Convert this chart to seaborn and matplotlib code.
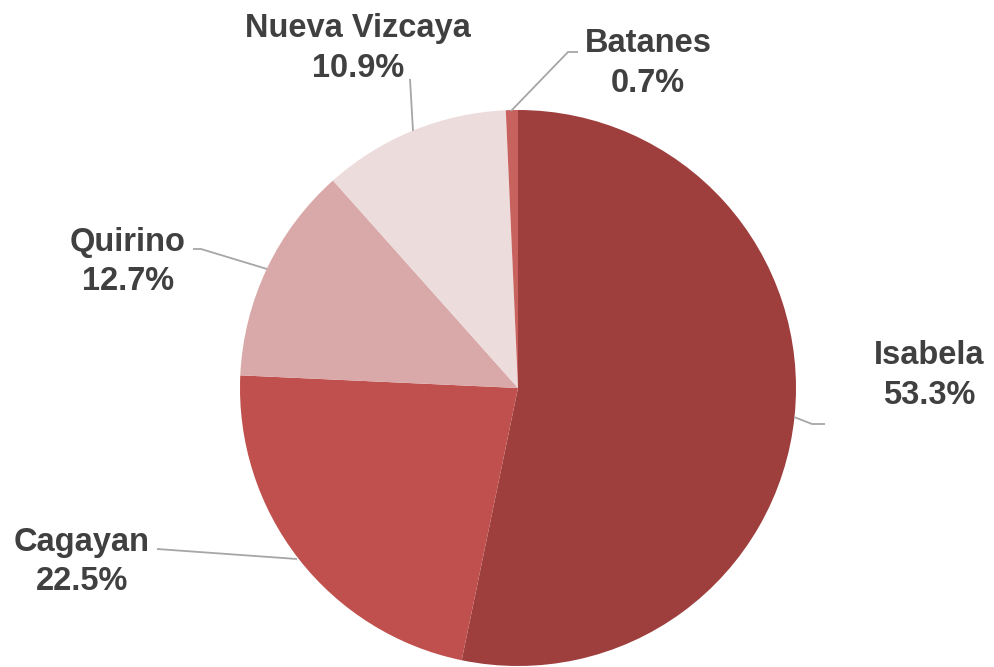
import matplotlib
matplotlib.use("Agg")
import matplotlib.pyplot as plt
import seaborn as sns

# ---- data ----
provinces = ["Isabela", "Cagayan", "Quirino", "Nueva Vizcaya", "Batanes"]
shares = [53.3, 22.5, 12.7, 10.9, 0.7]
colors = ["#9E3F3E", "#C0504D", "#D9A9A9", "#EDDCDC", "#C8625F"]

sns.set_theme(style="white")
plt.rcParams['font.family'] = ['Liberation Sans', 'DejaVu Sans']

W, H = 994, 667
fig = plt.figure(figsize=(W / 100, H / 100), dpi=100)
ax = fig.add_axes([0, 0, 1, 1])

cx, cy, r = 518, 388, 278
ax.pie(shares, colors=colors, startangle=-90, counterclock=True,
       center=(cx, cy), radius=r, frame=True,
       wedgeprops=dict(linewidth=0))
ax.set_xlim(0, W)
ax.set_ylim(H, 0)  # pixel-like coordinates, y down
ax.set_aspect("equal")
ax.axis("off")

# label layout: (name center, leader line points)
layout = {
    "Isabela": ((929, 356), [(794, 417), (812, 424), (825, 424)]),
    "Cagayan": ((82, 542), [(157, 549), (297, 559)]),
    "Quirino": ((128, 242), [(193, 249), (201, 249), (267, 269)]),
    "Nueva Vizcaya": ((358, 29), [(410, 79), (413, 131)]),
    "Batanes": ((648, 44), [(578, 52), (568, 52), (511, 111)]),
}

txt_color = "#404040"
line_color = "#A6A6A6"
for name, val in zip(provinces, shares):
    (tx, ty), pts = layout[name]
    ax.text(tx, ty, name, ha="center", va="center", fontsize=23.5,
            fontweight="bold", color=txt_color)
    ax.text(tx, ty + 39.5, f"{val:.1f}%", ha="center", va="center", fontsize=23.5,
            fontweight="bold", color=txt_color)
    xs = [p[0] for p in pts]
    ys = [p[1] for p in pts]
    ax.plot(xs, ys, color=line_color, linewidth=1.3, solid_capstyle="butt")

fig.savefig("out.png", dpi=100, facecolor="white")
